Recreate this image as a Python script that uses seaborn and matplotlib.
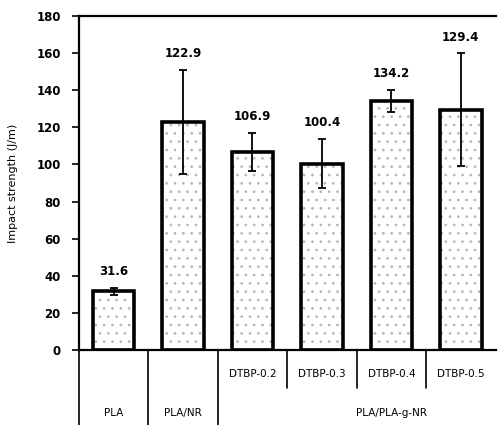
import matplotlib
matplotlib.use('Agg')
import matplotlib.pyplot as plt
import matplotlib.transforms as mtransforms
from matplotlib.patches import Rectangle
import pandas as pd
import seaborn as sns

# Data
samples = ['PLA', 'PLA/NR', 'DTBP-0.2', 'DTBP-0.3', 'DTBP-0.4', 'DTBP-0.5']
impact_strength = [31.6, 122.9, 106.9, 100.4, 134.2, 129.4]
std_dev = [2.0, 28.2, 10.2, 13.2, 5.8, 30.4]
sub_labels = ['', '', 'DTBP-0.2', 'DTBP-0.3', 'DTBP-0.4', 'DTBP-0.5']
groups = ['PLA', 'PLA/NR', 'PLA/PLA-g-NR']
group_spans = [(0, 0), (1, 1), (2, 5)]
y_ticks = [0, 20, 40, 60, 80, 100, 120, 140, 160, 180]

sns.set_style("white")
plt.rcParams['font.family'] = ['DejaVu Sans']
plt.rcParams['text.color'] = 'black'
plt.rcParams['axes.labelcolor'] = 'black'
plt.rcParams['ytick.color'] = 'black'
plt.rcParams['hatch.linewidth'] = 0.7

df = pd.DataFrame({'sample': samples, 'impact': impact_strength})

fig = plt.figure(figsize=(4.99, 4.25), dpi=100)
ax = fig.add_axes([0.158, 0.1765, 0.835, 0.786])

sns.barplot(data=df, x='sample', y='impact', color='white', edgecolor='black',
            linewidth=2.6, width=0.6, errorbar=None, saturation=1, ax=ax)

# speckled grey texture inside each bar
for patch in list(ax.patches):
    tex = Rectangle(patch.get_xy(), patch.get_width(), patch.get_height(),
                    facecolor='none', edgecolor='#b5b5b5', hatch='..', linewidth=0,
                    zorder=patch.get_zorder() - 0.1)
    ax.add_patch(tex)
    patch.set_facecolor('none')

ax.errorbar(x=range(len(samples)), y=impact_strength, yerr=std_dev, fmt='none',
            ecolor='black', elinewidth=1.3, capsize=3, capthick=1.3, zorder=5)

# value labels above the error bars
for i, (v, e) in enumerate(zip(impact_strength, std_dev)):
    ax.annotate(f'{v}', xy=(i, v + e), xytext=(0, 7), textcoords='offset points',
                ha='center', va='bottom', fontsize=8.5, fontweight='bold')

ax.set_xlim(-0.5, 5.5)
ax.set_ylim(0, 180)
ax.set_yticks(y_ticks)
ax.set_yticklabels([str(t) for t in y_ticks], fontsize=8.5, fontweight='bold')
ax.tick_params(axis='y', direction='out', length=5, width=1.2, left=True, pad=8)
ax.set_xticks([])
ax.set_xlabel('')
ax.set_ylabel('Impact strength (J/m)', fontsize=8, labelpad=13)

for side in ['left', 'bottom', 'top']:
    ax.spines[side].set_linewidth(1.6)
    ax.spines[side].set_color('black')
ax.spines['right'].set_visible(False)

# category table under the axis
trans = mtransforms.blended_transform_factory(ax.transData, ax.transAxes)
bottom = -0.225
for x in [-0.5, 0.5, 1.5]:
    ax.plot([x, x], [0, bottom], color='black', lw=1.2, transform=trans, clip_on=False)
for x in [2.5, 3.5, 4.5]:
    ax.plot([x, x], [0, -0.115], color='black', lw=1.2, transform=trans, clip_on=False)

for i, lab in enumerate(sub_labels):
    if lab:
        ax.text(i, -0.073, lab, transform=trans, ha='center', va='center', fontsize=7.5)
for name, (a, b) in zip(groups, group_spans):
    ax.text((a + b) / 2 + (0.5 if b > a else 0), -0.188, name, transform=trans,
            ha='center', va='center', fontsize=7.5)

fig.savefig('out.png', dpi=100)
